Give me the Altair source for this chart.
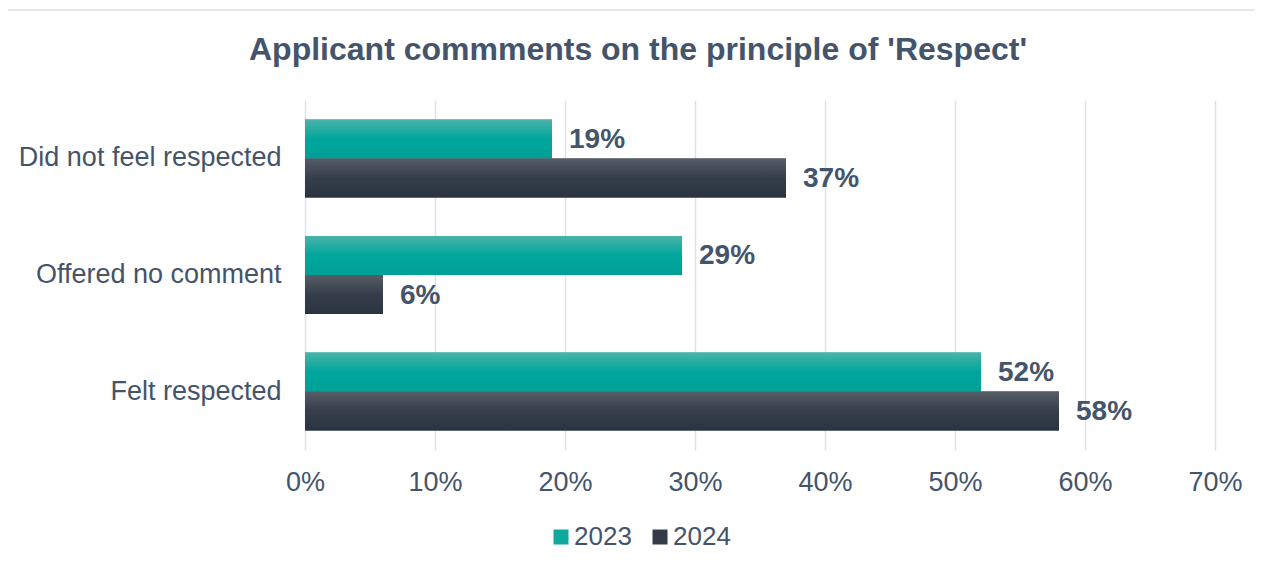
import altair as alt
import pandas as pd

categories = ["Did not feel respected", "Offered no comment", "Felt respected"]
series = ["2023", "2024"]
values_2023 = [0.19, 0.29, 0.52]
values_2024 = [0.37, 0.06, 0.58]
x_ticks = [0.0, 0.1, 0.2, 0.3, 0.4, 0.5, 0.6, 0.7]
title_text = "Applicant commments on the principle of 'Respect'"

rows = []
for c, a, b in zip(categories, values_2023, values_2024):
    rows.append({"category": c, "series": "2023", "value": a})
    rows.append({"category": c, "series": "2024", "value": b})
df = pd.DataFrame(rows)

TEXT = "#44546A"
FONT = "Liberation Sans"

teal_grad = alt.Gradient(
    gradient="linear", x1=0, x2=0, y1=0, y2=1,
    stops=[alt.GradientStop(offset=0, color="#4BB3AA"),
           alt.GradientStop(offset=0.5, color="#00A69C"),
           alt.GradientStop(offset=1, color="#00A097")])
dark_grad = alt.Gradient(
    gradient="linear", x1=0, x2=0, y1=0, y2=1,
    stops=[alt.GradientStop(offset=0, color="#575D67"),
           alt.GradientStop(offset=0.5, color="#353E4A"),
           alt.GradientStop(offset=1, color="#2A3441")])

y_enc = alt.Y("category:N", sort=categories,
              scale=alt.Scale(paddingInner=0.33, paddingOuter=0.167),
              axis=alt.Axis(title=None, labelFontSize=27, labelColor=TEXT,
                            labelPadding=24, ticks=False, domain=False,
                            labelLimit=0, labelFont=FONT))
yoff_enc = alt.YOffset("series:N", sort=series,
                       scale=alt.Scale(domain=series, paddingInner=0, paddingOuter=0))
x_enc = alt.X("value:Q", scale=alt.Scale(domain=[0, 0.7], nice=False),
              axis=alt.Axis(values=x_ticks, format=".0%", title=None, grid=True,
                            gridColor="#DDE2EA", gridWidth=1.5, domain=False,
                            ticks=False, labelFontSize=27, labelColor=TEXT,
                            labelPadding=19, labelFlush=False, labelFont=FONT))

base = alt.Chart(df).encode(x=x_enc, y=y_enc, yOffset=yoff_enc)

legend_bars = base.mark_bar().encode(
    color=alt.Color("series:N",
                    scale=alt.Scale(domain=series, range=["#0FA89E", "#333C48"]),
                    legend=alt.Legend(orient="none", legendX=243, legendY=424,
                                      direction="horizontal", title=None,
                                      labelFontSize=26, labelColor=TEXT,
                                      labelFont=FONT, symbolType="square",
                                      symbolSize=225, symbolStrokeWidth=0,
                                      labelOffset=0, columnPadding=15, padding=0))
)
bars_a = base.transform_filter("datum.series == '2023'").mark_bar(color=teal_grad)
bars_b = base.transform_filter("datum.series == '2024'").mark_bar(color=dark_grad)

labels = base.mark_text(align="left", baseline="middle", dx=17, dy=1, fontSize=28,
                        fontWeight="bold", color=TEXT, font=FONT).encode(
    text=alt.Text("value:Q", format=".0%"))

title = alt.Chart(pd.DataFrame({"t": [title_text]})).mark_text(
    align="center", baseline="middle", fontSize=32, fontWeight="bold",
    color=TEXT, font=FONT).encode(
    text="t:N", x=alt.value(333), y=alt.value(-50))

border = alt.Chart(pd.DataFrame({"a": [0]})).mark_rule(
    color="#DDDFE3", strokeWidth=1.5).encode(
    x=alt.value(-297), x2=alt.value(960), y=alt.value(-90))

chart = alt.layer(border, title, legend_bars, bars_a, bars_b, labels).properties(
    width=910, height=350,
    autosize=alt.AutoSizeParams(type="none"),
    padding={"left": 297, "top": 92, "right": 40, "bottom": 100},
).configure_view(strokeWidth=0)

chart.save("out.html", embed_options={"renderer": "svg", "actions": False})
